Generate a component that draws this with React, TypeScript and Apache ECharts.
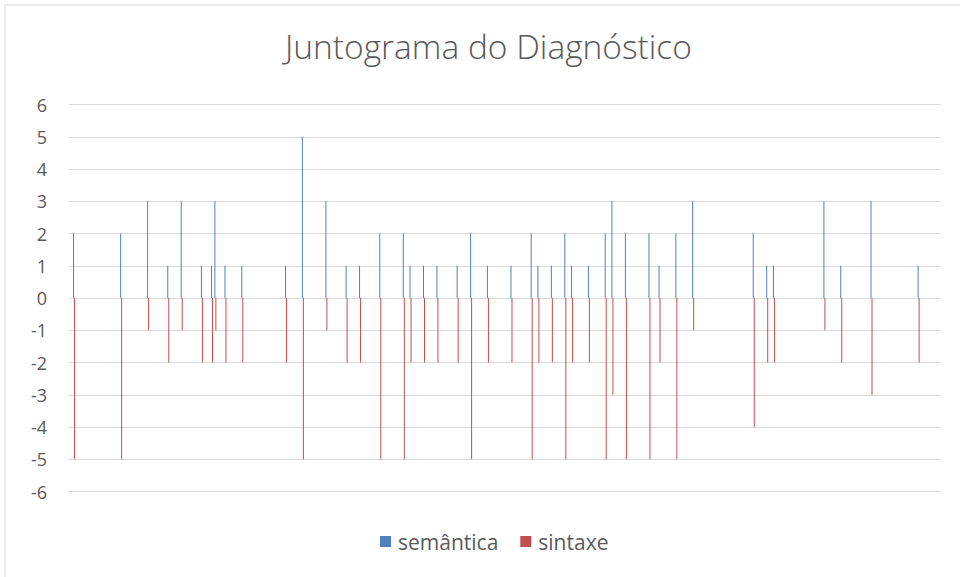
import React, { useEffect, useRef } from "react";
import * as echarts from "echarts";

const CATEGORY_COUNT = 259;
const categories: string[] = Array.from({ length: CATEGORY_COUNT }, (_, i) => String(i + 1));

// category index (0-based) of each item that has marks
const itemIndex = [1, 15, 23, 29, 33, 39, 42, 43, 46, 51, 64, 69, 76, 82, 86, 92, 99, 101, 105, 109, 115, 119, 124, 131, 137, 139, 143, 147, 149, 154, 159, 161, 165, 172, 175, 180, 185, 203, 207, 209, 224, 229, 238, 252];
const semantica = [2, 2, 3, 1, 3, 1, 1, 3, 1, 1, 1, 5, 3, 1, 1, 2, 2, 1, 1, 1, 1, 2, 1, 1, 2, 1, 1, 2, 1, 1, 2, 3, 2, 2, 1, 2, 3, 2, 1, 1, 3, 1, 3, 1];
const sintaxe = [-5, -5, -1, -2, -1, -2, -2, -1, -2, -2, -2, -5, -1, -2, -2, -5, -5, -2, -2, -2, -2, -5, -2, -2, -5, -2, -2, -5, -2, -2, -5, -3, -5, -5, -2, -5, -1, -4, -2, -2, -1, -2, -3, -2];
const yTicks = [-6, -5, -4, -3, -2, -1, 0, 1, 2, 3, 4, 5, 6];

function spread(values: number[]): (number | string)[] {
  const out: (number | string)[] = categories.map(() => "-");
  itemIndex.forEach((idx, k) => {
    out[idx] = values[k];
  });
  return out;
}

export default function App() {
  const ref = useRef<HTMLDivElement>(null);
  useEffect(() => {
    if (!ref.current) return;
    const chart = echarts.init(ref.current, undefined, { renderer: "svg" });
    const font = "'Open Sans', 'Liberation Sans', sans-serif";
    chart.setOption({
      animation: false,
      backgroundColor: "#ffffff",
      textStyle: { fontFamily: font },
      title: {
        text: "Juntograma do Diagnóstico",
        left: 280,
        top: 24,
        textStyle: { color: "#595959", fontSize: 33.5, fontWeight: 300, fontFamily: font },
      },
      graphic: [
        {
          type: "rect",
          shape: { x: 5, y: 5, width: 1000, height: 1000 },
          style: { fill: "none", stroke: "#d9d9d9", lineWidth: 1 },
          silent: true,
        },
      ],
      legend: {
        data: ["semântica", "sintaxe"],
        left: 375,
        top: 526,
        icon: "rect",
        itemWidth: 11,
        itemHeight: 11,
        itemGap: 22,
        textStyle: { color: "#595959", fontSize: 21, fontFamily: font, padding: [0, 0, 0, 2] },
      },
      grid: { left: 69, right: 19.5, top: 104.5, bottom: 85.5, containLabel: false },
      xAxis: {
        type: "category",
        data: categories,
        axisLine: { show: false },
        axisTick: { show: false },
        axisLabel: { show: false },
        splitLine: { show: false },
      },
      yAxis: {
        type: "value",
        min: yTicks[0],
        max: yTicks[yTicks.length - 1],
        interval: 1,
        axisLine: { show: false },
        axisTick: { show: false },
        axisLabel: { color: "#595959", fontSize: 18, margin: 22, fontFamily: font },
        splitLine: { lineStyle: { color: "#d9d9d9", width: 1 } },
      },
      series: [
        {
          name: "semântica",
          type: "bar",
          data: spread(semantica),
          barWidth: 1,
          barGap: "0%",
          itemStyle: { color: "#4F81BD" },
        },
        {
          name: "sintaxe",
          type: "bar",
          data: spread(sintaxe),
          barWidth: 1,
          barGap: "0%",
          itemStyle: { color: "#C0504D" },
        },
      ],
    });
    return () => chart.dispose();
  }, []);
  return (
    <div
      ref={ref}
      style={{ position: "fixed", left: 0, top: 0, width: 960, height: 577 }}
    />
  );
}
